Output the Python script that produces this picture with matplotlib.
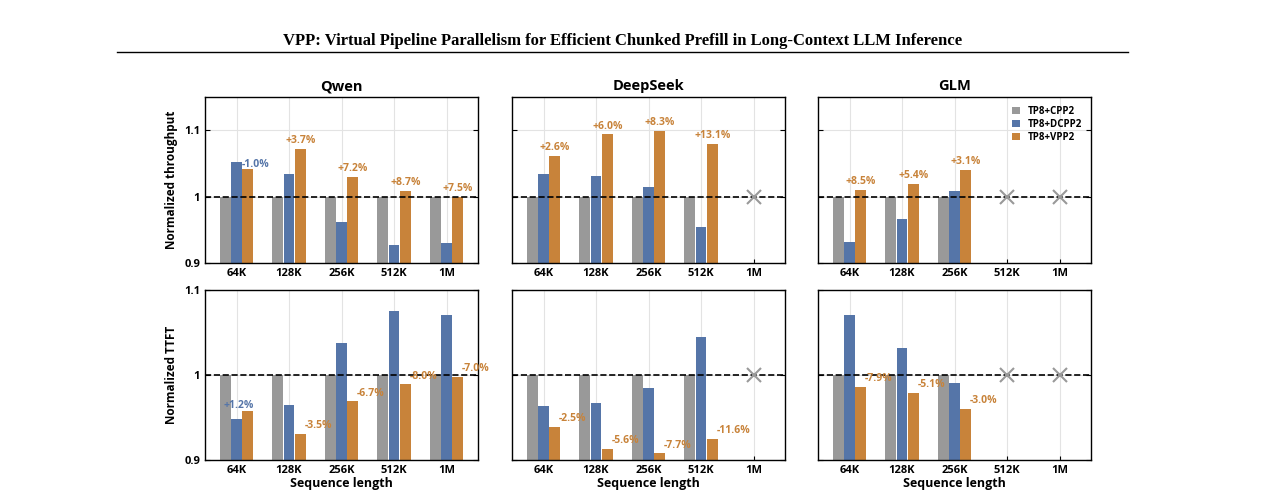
import matplotlib
matplotlib.use("Agg")
import matplotlib.pyplot as plt
import numpy as np

cats = ["64K", "128K", "256K", "512K", "1M"]
models = ["Qwen", "DeepSeek", "GLM"]
# throughput (normalized), None = missing
thr_dcpp = {"Qwen": [1.052, 1.034, 0.961, 0.927, 0.930],
            "DeepSeek": [1.034, 1.031, 1.015, 0.954, None],
            "GLM": [0.931, 0.966, 1.009, None, None]}
thr_vpp = {"Qwen": [1.042, 1.072, 1.030, 1.009, 1.000],
           "DeepSeek": [1.061, 1.094, 1.099, 1.079, None],
           "GLM": [1.010, 1.019, 1.040, None, None]}
thr_lab = {"Qwen": ["-1.0%", "+3.7%", "+7.2%", "+8.7%", "+7.5%"],
           "DeepSeek": ["+2.6%", "+6.0%", "+8.3%", "+13.1%", None],
           "GLM": ["+8.5%", "+5.4%", "+3.1%", None, None]}
ttft_dcpp = {"Qwen": [0.948, 0.965, 1.038, 1.075, 1.071],
             "DeepSeek": [0.964, 0.967, 0.985, 1.045, None],
             "GLM": [1.070, 1.032, 0.990, None, None]}
ttft_vpp = {"Qwen": [0.958, 0.931, 0.969, 0.989, 0.998],
            "DeepSeek": [0.939, 0.913, 0.908, 0.925, None],
            "GLM": [0.986, 0.979, 0.960, None, None]}
ttft_lab = {"Qwen": ["+1.2%", "-3.5%", "-6.7%", "-8.0%", "-7.0%"],
            "DeepSeek": ["-2.5%", "-5.6%", "-7.7%", "-11.6%", None],
            "GLM": ["-7.9%", "-5.1%", "-3.0%", None, None]}

GRAY, BLUE, ORANGE = "#999999", "#5575a8", "#c8833a"
plt.rcParams['font.family'] = ['Open Sans', 'DejaVu Sans']
fig = plt.figure(figsize=(12.75, 4.95), dpi=100)
fig.text(0.488, 0.918, "VPP: Virtual Pipeline Parallelism for Efficient Chunked Prefill in Long-Context LLM Inference",
         ha="center", va="center", fontsize=12, fontweight="bold", family="Liberation Serif")
fig.add_artist(plt.Line2D([0.092, 0.885], [0.894, 0.894], color="black", lw=1))

lefts = [205, 512, 818]
W, H = 1275, 495
w = 0.215
for r in range(2):
    top, bot = (97, 263) if r == 0 else (290, 460)
    for c, m in enumerate(models):
        ax = fig.add_axes([lefts[c] / W, 1 - bot / H, 273 / W, (bot - top) / H])
        x = np.arange(len(cats))
        d = thr_dcpp[m] if r == 0 else ttft_dcpp[m]
        v = thr_vpp[m] if r == 0 else ttft_vpp[m]
        labs = thr_lab[m] if r == 0 else ttft_lab[m]
        for i in range(len(cats)):
            if d[i] is None:
                ax.plot(i, 1.0, marker="x", ms=10, mew=1.5, color=GRAY, zorder=4)
                continue
            ax.bar(i - w, 1.0, w * 0.95, color=GRAY, zorder=2, label="TP8+CPP2" if i == 0 else None)
            ax.bar(i, d[i], w * 0.95, color=BLUE, zorder=2, label="TP8+DCPP2" if i == 0 else None)
            ax.bar(i + w, v[i], w * 0.95, color=ORANGE, zorder=2, label="TP8+VPP2" if i == 0 else None)
            lab = labs[i]
            if r == 0:
                if m == "Qwen" and i == 0:
                    ax.text(i + 0.1, d[i] - 0.004, lab, color=BLUE, fontsize=7.5, fontweight="bold", ha="left", va="center", zorder=5)
                else:
                    ax.text(i + w, v[i] + 0.004, lab, color=ORANGE, fontsize=7.5, fontweight="bold", ha="center", va="bottom", zorder=5)
            else:
                if m == "Qwen" and i == 0:
                    ax.text(i + 0.05, d[i] + 0.01, lab, color=BLUE, fontsize=7.5, fontweight="bold", ha="center", va="bottom", zorder=5)
                else:
                    ax.text(i + w + 0.08, v[i] + 0.003, lab, color=ORANGE, fontsize=7.5, fontweight="bold", ha="left", va="bottom", zorder=5)
        ax.axhline(1.0, color="black", ls="--", lw=1.2, zorder=3)
        ax.set_xlim(-0.6, 4.6)
        if r == 0:
            ax.set_ylim(0.9, 1.15)
            ax.set_yticks([0.9, 1.0, 1.1])
        else:
            ax.set_ylim(0.9, 1.1)
            ax.set_yticks([0.9, 1.0, 1.1])
        ax.set_yticklabels(["0.9", "1", "1.1"])
        ax.set_xticks(x)
        ax.set_xticklabels(cats, fontsize=8, fontweight="bold")
        ax.tick_params(axis="y", labelsize=8, direction="in", right=True)
        ax.tick_params(axis="x", direction="in", length=3)
        for lb in ax.get_yticklabels():
            lb.set_fontweight("bold")
        if c != 0:
            ax.set_yticklabels([])
        ax.grid(True, color="#e3e3e3", lw=0.8, zorder=0)
        for s in ax.spines.values():
            s.set_linewidth(1.0)
        if r == 0:
            ax.set_title(m, fontsize=10.5, fontweight="bold", pad=5)
        else:
            ax.set_xlabel("Sequence length", fontsize=9, fontweight="bold", labelpad=1)
        if c == 0:
            ax.set_ylabel("Normalized throughput" if r == 0 else "Normalized TTFT", fontsize=8.5, fontweight="bold")
        if r == 0 and c == 2:
            ax.legend(loc="upper right", fontsize=7, frameon=False, handlelength=0.8, handleheight=0.8,
                      labelspacing=0.2, prop={"weight": "bold", "size": 7})
fig.savefig("out.png", dpi=100)
